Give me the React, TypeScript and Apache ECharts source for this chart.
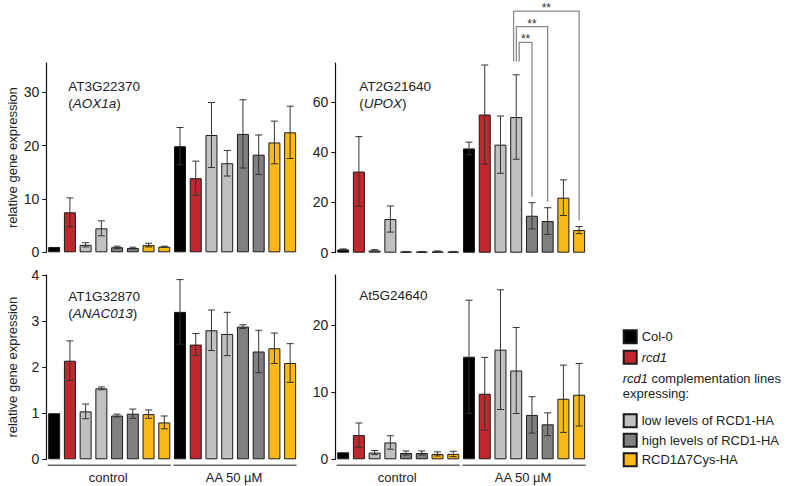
import React, { useEffect, useRef } from 'react';
import * as echarts from 'echarts';

const FONT = "'Liberation Sans', Arial, Helvetica, sans-serif";

// Genotypes (legend entries) and colours
const genotypes = ['Col-0', 'rcd1', 'low levels of RCD1-HA', 'high levels of RCD1-HA', 'RCD1Δ7Cys-HA'];
const genotypeColors = ['#000000', '#c1272d', '#c0c0c0', '#808080', '#fbb917'];
// genotype of each of the 8 bars within one treatment group
const barGenotype = [0, 1, 2, 2, 3, 3, 4, 4];
const treatments = ['control', 'AA 50 µM'];

// Panels
const geneIds = ['AT3G22370', 'AT2G21640', 'AT1G32870', 'At5G24640'];
const geneNames = ['AOX1a', 'UPOX', 'ANAC013', ''];

const aox1aMean = [1.0, 7.5, 1.4, 4.5, 0.95, 0.8, 1.35, 1.05, 19.9, 13.9, 22.0, 16.7, 22.2, 18.3, 20.6, 22.5];
const aox1aErr = [0, 2.7, 0.4, 1.4, 0.2, 0.15, 0.35, 0.1, 3.5, 3.2, 6.1, 2.4, 6.4, 3.7, 4.0, 4.9];

const upoxMean = [1.3, 32.3, 0.9, 13.4, 0.4, 0.4, 0.5, 0.4, 41.5, 55.0, 43.0, 54.0, 14.7, 12.6, 21.9, 9.0];
const upoxErr = [0.2, 13.9, 0.3, 5.2, 0.1, 0.1, 0.2, 0.1, 2.5, 19.7, 11.4, 16.8, 5.2, 5.3, 7.1, 1.4];

const anac013Mean = [1.0, 2.14, 1.04, 1.54, 0.95, 0.99, 0.98, 0.8, 3.2, 2.49, 2.8, 2.72, 2.88, 2.34, 2.41, 2.09];
const anac013Err = [0, 0.43, 0.16, 0.03, 0.03, 0.1, 0.09, 0.14, 0.7, 0.24, 0.44, 0.47, 0.04, 0.46, 0.33, 0.42];

const at5g24640Mean = [1.04, 3.6, 1.0, 2.5, 0.94, 0.94, 0.8, 0.8, 15.25, 9.75, 16.3, 13.2, 6.6, 5.2, 9.0, 9.6];
const at5g24640Err = [0, 1.8, 0.3, 1.0, 0.3, 0.3, 0.3, 0.4, 8.4, 5.4, 8.9, 6.4, 2.7, 1.7, 5.0, 4.65];

const means = [aox1aMean, upoxMean, anac013Mean, at5g24640Mean];
const errs = [aox1aErr, upoxErr, anac013Err, at5g24640Err];

const yMax = [35.5, 75.5, 4, 27.4];
const yTicks = [
  [0, 10, 20, 30],
  [0, 20, 40, 60],
  [0, 1, 2, 3, 4],
  [0, 10, 20],
];

// significance (UPOX panel): comparisons of bar 11 with bars 12, 13, 15
const sigPanel = 1;
const sigFrom = 11;
const sigTo = [12, 13, 15];
const sigLabel = '**';

const legendNote = ['rcd1', ' complementation lines', 'expressing:'];

const categories: string[] = [];
treatments.forEach((t) => barGenotype.forEach((g, j) => categories.push(`${t}-${j}`)));

const gridLayout = [
  { left: 46.3, top: 63, width: 251.7, height: 189.3 },
  { left: 335.3, top: 63, width: 251.7, height: 189.7 },
  { left: 46.3, top: 275, width: 251.7, height: 184.3 },
  { left: 335.3, top: 275, width: 251.7, height: 184.3 },
];
const titlePos = [
  { left: 68.3, top: 78.5 },
  { left: 359.3, top: 78.5 },
  { left: 68.3, top: 288.5 },
  { left: 359.3, top: 287.5 },
];

function buildOption() {
  const series: any[] = [];
  const xAxis: any[] = [];
  const yAxis: any[] = [];
  const title: any[] = [];

  for (let p = 0; p < 4; p++) {
    xAxis.push({
      type: 'category',
      gridIndex: p,
      data: categories,
      boundaryGap: true,
      axisLine: { show: false },
      axisTick: { show: false },
      axisLabel: { show: false },
    });
    yAxis.push({
      type: 'value',
      gridIndex: p,
      min: 0,
      max: yMax[p],
      splitLine: { show: false },
      axisLine: { show: true, lineStyle: { color: '#111', width: 1.2 } },
      axisTick: { show: true, length: 4, customValues: yTicks[p], lineStyle: { color: '#111', width: 1 } },
      axisLabel: { customValues: yTicks[p], fontSize: 14, color: '#222', margin: 7, fontFamily: FONT },
      name: p % 2 === 0 ? 'relative gene expression' : '',
      nameLocation: 'middle',
      nameGap: 27,
      nameTextStyle: { fontSize: 13, color: '#222', fontFamily: FONT },
    });

    const text = geneNames[p]
      ? `{a|${geneIds[p]}}\n{a|(}{i|${geneNames[p]}}{a|)}`
      : `{a|${geneIds[p]}}`;
    title.push({
      text,
      left: titlePos[p].left,
      top: titlePos[p].top,
      padding: 0,
      textStyle: {
        fontWeight: 'normal',
        rich: {
          a: { fontSize: 13.5, color: '#222', lineHeight: 16.5, fontWeight: 'normal', fontFamily: FONT },
          i: {
            fontSize: 13.5,
            color: '#222',
            lineHeight: 16.5,
            fontStyle: 'italic',
            fontWeight: 'normal',
            fontFamily: FONT,
          },
        },
      },
    });

    genotypes.forEach((name, g) => {
      series.push({
        type: 'bar',
        name,
        xAxisIndex: p,
        yAxisIndex: p,
        barWidth: 12,
        barGap: '-100%',
        silent: true,
        itemStyle: { color: genotypeColors[g], borderColor: '#1a1a1a', borderWidth: 1 },
        data: means[p].map((v, i) => (barGenotype[i % 8] === g ? v : '-')),
      });
    });

    const errData: number[][] = [];
    means[p].forEach((v, i) => {
      if (errs[p][i] > 0) errData.push([i, v - errs[p][i], v + errs[p][i]]);
    });
    series.push({
      type: 'custom',
      xAxisIndex: p,
      yAxisIndex: p,
      z: 5,
      silent: true,
      encode: { x: 0, y: [1, 2] },
      data: errData,
      renderItem: (params: any, api: any) => {
        const x = api.value(0);
        const lo = api.coord([x, api.value(1)]);
        const hi = api.coord([x, api.value(2)]);
        const w = 3.5;
        const st = { stroke: '#333', lineWidth: 1 };
        return {
          type: 'group',
          children: [
            { type: 'line', shape: { x1: hi[0], y1: hi[1], x2: lo[0], y2: lo[1] }, style: st },
            { type: 'line', shape: { x1: hi[0] - w, y1: hi[1], x2: hi[0] + w, y2: hi[1] }, style: st },
            { type: 'line', shape: { x1: lo[0] - w, y1: lo[1], x2: lo[0] + w, y2: lo[1] }, style: st },
          ],
        };
      },
    });

    if (p >= 2) {
      series.push({
        type: 'custom',
        xAxisIndex: p,
        yAxisIndex: p,
        silent: true,
        clip: false,
        encode: { x: 0, y: 2 },
        data: treatments.map((t, k) => [k * 8, k * 8 + 7, 0, k]),
        renderItem: (params: any, api: any) => {
          const a = api.coord([api.value(0), 0]);
          const b = api.coord([api.value(1), 0]);
          const cs = params.coordSys;
          const yBase = cs.y + cs.height;
          const half = 6.5;
          return {
            type: 'group',
            children: [
              {
                type: 'line',
                shape: { x1: a[0] - half, y1: yBase + 6, x2: b[0] + half, y2: yBase + 6 },
                style: { stroke: '#666', lineWidth: 1.6 },
              },
              {
                type: 'text',
                style: {
                  text: treatments[api.value(3)],
                  x: (a[0] + b[0]) / 2 - 1,
                  y: yBase + 18.5,
                  align: 'center',
                  verticalAlign: 'middle',
                  fontSize: 13,
                  fontFamily: FONT,
                  fill: '#222',
                },
              },
            ],
          };
        },
      });
    }

    if (p === sigPanel) {
      series.push({
        type: 'custom',
        xAxisIndex: p,
        yAxisIndex: p,
        silent: true,
        clip: false,
        z: 6,
        encode: { x: 0, y: 2 },
        data: sigTo.map((to, l) => [sigFrom, to, means[p][to] + errs[p][to], l]),
        renderItem: (params: any, api: any) => {
          const cs = params.coordSys;
          const pf = api.coord([api.value(0), 0]);
          const pt = api.coord([api.value(1), api.value(2)]);
          const lvl = api.value(3);
          const xs = pf[0] + 3 - lvl * 2.8;
          const yStart = cs.y - 1.5;
          const yTop = cs.y - 20.7 - lvl * 15.6;
          const yEnd = pt[1] - 6;
          return {
            type: 'group',
            children: [
              {
                type: 'polyline',
                shape: { points: [[xs, yStart], [xs, yTop], [pt[0], yTop], [pt[0], yEnd]] },
                style: { stroke: '#8a8a8a', lineWidth: 1.3, fill: 'none' },
              },
              {
                type: 'text',
                style: {
                  text: sigLabel,
                  x: (xs + pt[0]) / 2,
                  y: yTop - 3,
                  align: 'center',
                  verticalAlign: 'middle',
                  fontSize: 12,
                  fontFamily: FONT,
                  fill: '#333',
                },
              },
            ],
          };
        },
      });
    }
  }

  const legendCommon = {
    orient: 'vertical',
    left: 622.7,
    padding: 0,
    icon: 'rect',
    itemWidth: 13,
    itemHeight: 13,
    selectedMode: false,
    textStyle: {
      fontSize: 13,
      color: '#222',
      fontFamily: FONT,
      rich: { i: { fontSize: 13, color: '#222', fontStyle: 'italic', fontFamily: FONT } },
    },
    formatter: (n: string) => (n === 'rcd1' ? '{i|rcd1}' : n),
  };

  return {
    animation: false,
    backgroundColor: '#ffffff',
    textStyle: { fontFamily: FONT },
    title,
    grid: gridLayout.map((g) => ({ ...g, containLabel: false })),
    xAxis,
    yAxis,
    legend: [
      { ...legendCommon, top: 329.3, itemGap: 5.5, data: genotypes.slice(0, 2) },
      { ...legendCommon, top: 413.3, itemGap: 4.5, data: genotypes.slice(2) },
    ],
    graphic: [
      {
        type: 'text',
        left: 622.7,
        top: 372,
        style: {
          text: `{i|${legendNote[0]}}{n|${legendNote[1]}}\n{n|${legendNote[2]}}`,
          rich: {
            i: { fontSize: 13, fontStyle: 'italic', fill: '#222', lineHeight: 14.5, fontFamily: FONT },
            n: { fontSize: 13, fill: '#222', lineHeight: 14.5, fontFamily: FONT },
          },
        },
      },
    ],
    series,
  };
}

export default function App() {
  const ref = useRef<HTMLDivElement>(null);
  useEffect(() => {
    if (!ref.current) return;
    const chart = echarts.init(ref.current, undefined, { renderer: 'svg' });
    chart.setOption(buildOption() as any);
    return () => chart.dispose();
  }, []);
  return (
    <div
      ref={ref}
      style={{ position: 'fixed', left: 0, top: 0, width: 792, height: 486, background: '#fff' }}
    />
  );
}
